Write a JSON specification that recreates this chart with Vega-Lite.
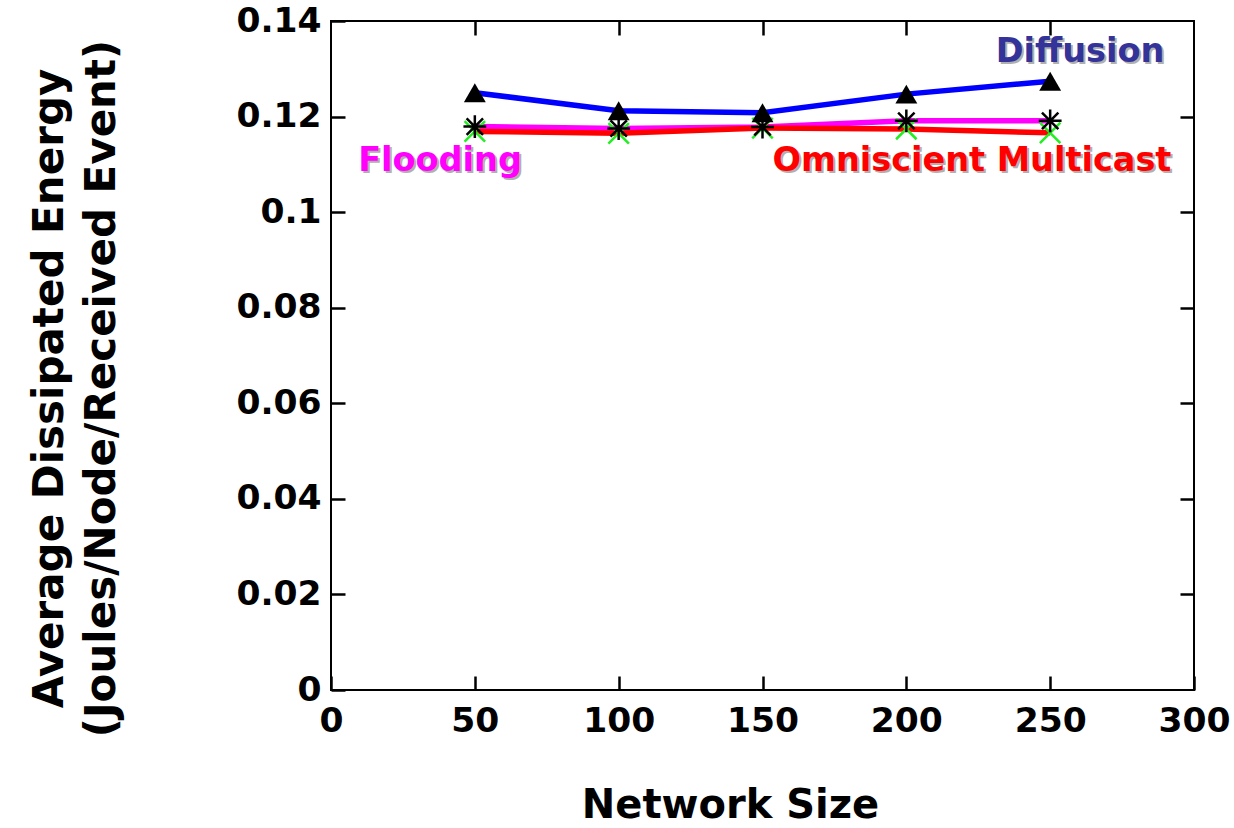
{
  "$schema": "https://vega.github.io/schema/vega-lite/v6.json",
  "width": 863,
  "height": 669,
  "autosize": "none",
  "padding": {"left": 331, "top": 21, "right": 40, "bottom": 138},
  "background": "white",
  "config": {
    "view": {"stroke": "black", "strokeWidth": 2},
    "font": "DejaVu Sans",
    "axis": {
      "domain": false,
      "grid": false,
      "ticks": true,
      "tickSize": -14,
      "tickWidth": 2.5,
      "tickColor": "black",
      "labelFlush": false,
      "labelFont": "DejaVu Sans",
      "labelFontWeight": "bold",
      "labelFontSize": 34.5,
      "labelColor": "black",
      "titleFont": "DejaVu Sans",
      "titleFontWeight": "bold",
      "titleColor": "black"
    }
  },
  "datasets": {
    "series": [
      {"series": "Diffusion", "size": 50, "energy": 0.1250},
      {"series": "Diffusion", "size": 100, "energy": 0.1212},
      {"series": "Diffusion", "size": 150, "energy": 0.1208},
      {"series": "Diffusion", "size": 200, "energy": 0.1247},
      {"series": "Diffusion", "size": 250, "energy": 0.1274},
      {"series": "Flooding", "size": 50, "energy": 0.1179},
      {"series": "Flooding", "size": 100, "energy": 0.1175},
      {"series": "Flooding", "size": 150, "energy": 0.1178},
      {"series": "Flooding", "size": 200, "energy": 0.1191},
      {"series": "Flooding", "size": 250, "energy": 0.1191},
      {"series": "Omniscient Multicast", "size": 50, "energy": 0.1169},
      {"series": "Omniscient Multicast", "size": 100, "energy": 0.1165},
      {"series": "Omniscient Multicast", "size": 150, "energy": 0.1176},
      {"series": "Omniscient Multicast", "size": 200, "energy": 0.1174},
      {"series": "Omniscient Multicast", "size": 250, "energy": 0.1166}
    ],
    "labels": [
      {"label": "Diffusion", "size": 260.4, "energy": 0.1336},
      {"label": "Flooding", "size": 37.9, "energy": 0.1106},
      {"label": "Omniscient Multicast", "size": 222.8, "energy": 0.1106}
    ]
  },
  "resolve": {"axis": {"x": "independent", "y": "independent"}, "scale": {"color": "independent"}},
  "layer": [
    {
      "data": {"name": "series"},
      "mark": {"type": "point", "opacity": 0},
      "encoding": {
        "x": {"field": "size", "type": "quantitative", "scale": {"domain": [0, 300], "nice": false, "zero": true},
              "axis": {"orient": "top", "labels": false, "title": null, "values": [50, 100, 150, 200, 250]}},
        "y": {"field": "energy", "type": "quantitative", "scale": {"domain": [0, 0.14], "nice": false},
              "axis": {"orient": "right", "labels": false, "title": null, "values": [0.02, 0.04, 0.06, 0.08, 0.1, 0.12]}}
      }
    },
    {
      "data": {"name": "series"},
      "mark": {"type": "line", "strokeWidth": 5.5},
      "encoding": {
        "x": {"field": "size", "type": "quantitative",
              "axis": {"orient": "bottom", "values": [0, 50, 100, 150, 200, 250, 300], "labelPadding": 28,
                       "title": "Network Size", "titleFontSize": 40, "titleX": 399, "titleY": 115, "titleBaseline": "middle"}},
        "y": {"field": "energy", "type": "quantitative",
              "axis": {"orient": "left", "values": [0, 0.02, 0.04, 0.06, 0.08, 0.1, 0.12, 0.14], "format": ".2~f", "labelPadding": 24,
                       "title": ["Average Dissipated Energy", "(Joules/Node/Received Event)"], "titleFontSize": 42, "titleLineHeight": 52,
                       "titleX": -302, "titleY": 367, "titleAngle": -90, "titleAlign": "center", "titleBaseline": "top"}},
        "color": {"field": "series", "type": "nominal", "legend": null,
                  "scale": {"domain": ["Diffusion", "Flooding", "Omniscient Multicast"], "range": ["#0000ff", "#ff00ff", "#ff0000"]}},
        "order": {"field": "size"}
      }
    },
    {
      "data": {"name": "series"},
      "transform": [{"filter": "datum.series === 'Omniscient Multicast'"}],
      "mark": {"type": "point", "shape": "M-1,-1L1,1M-1,1L1,-1", "filled": false, "stroke": "#22ee22", "strokeWidth": 2.5, "size": 420, "opacity": 1},
      "encoding": {
        "x": {"field": "size", "type": "quantitative", "axis": null},
        "y": {"field": "energy", "type": "quantitative", "axis": null}
      }
    },
    {
      "data": {"name": "series"},
      "transform": [{"filter": "datum.series === 'Flooding'"}],
      "mark": {"type": "point", "shape": "M-1,0L1,0M0,-1L0,1M-0.72,-0.72L0.72,0.72M-0.72,0.72L0.72,-0.72", "filled": false, "stroke": "black", "strokeWidth": 2.5, "size": 520, "opacity": 1},
      "encoding": {
        "x": {"field": "size", "type": "quantitative", "axis": null},
        "y": {"field": "energy", "type": "quantitative", "axis": null}
      }
    },
    {
      "data": {"name": "series"},
      "transform": [{"filter": "datum.series === 'Diffusion'"}],
      "mark": {"type": "point", "shape": "triangle-up", "filled": true, "color": "black", "size": 480, "opacity": 1},
      "encoding": {
        "x": {"field": "size", "type": "quantitative", "axis": null},
        "y": {"field": "energy", "type": "quantitative", "axis": null}
      }
    },
    {
      "data": {"name": "labels"},
      "mark": {"type": "text", "fontSize": 33.5, "fontWeight": "bold", "font": "DejaVu Sans", "align": "center", "baseline": "middle", "dx": 2, "dy": 2, "color": "#b0b0b0"},
      "encoding": {
        "x": {"field": "size", "type": "quantitative", "axis": null},
        "y": {"field": "energy", "type": "quantitative", "axis": null},
        "text": {"field": "label"}
      }
    },
    {
      "data": {"name": "labels"},
      "mark": {"type": "text", "fontSize": 33.5, "fontWeight": "bold", "font": "DejaVu Sans", "align": "center", "baseline": "middle"},
      "encoding": {
        "x": {"field": "size", "type": "quantitative", "axis": null},
        "y": {"field": "energy", "type": "quantitative", "axis": null},
        "text": {"field": "label"},
        "color": {"field": "label", "type": "nominal", "legend": null,
                  "scale": {"domain": ["Diffusion", "Flooding", "Omniscient Multicast"], "range": ["#333399", "#ff00ff", "#ff0000"]}}
      }
    }
  ]
}
